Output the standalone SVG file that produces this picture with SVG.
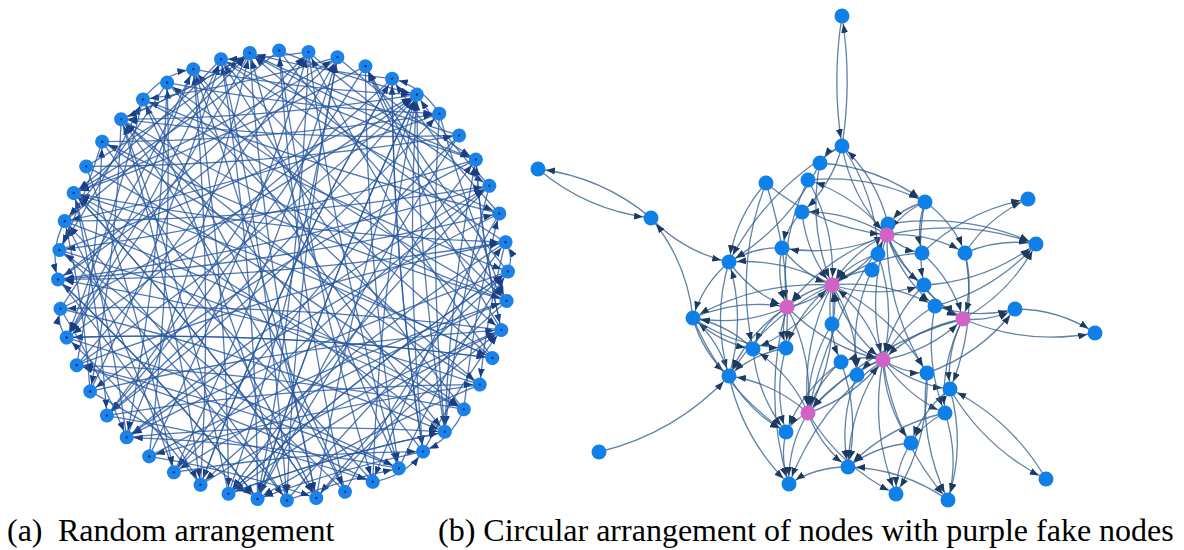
<svg xmlns="http://www.w3.org/2000/svg" xmlns:xlink="http://www.w3.org/1999/xlink" width="1184" height="550" viewBox="0 0 1184 550">
<style>
.ea{fill:none;stroke:#28579f;stroke-opacity:.8;stroke-width:1.3;marker-end:url(#ha)}
.eb{fill:none;stroke:#35608e;stroke-opacity:.78;stroke-width:1.3;marker-end:url(#hb)}
.na{fill:#1b82ea}
.dot{fill:#0b3470}
.nb{fill:#0f80e8}
.np{fill:#d262c6}
.cap{font-family:"Liberation Serif","Times New Roman",serif;font-size:32px;fill:#000}
</style>
<defs>
<marker id="ha" markerUnits="userSpaceOnUse" markerWidth="9" markerHeight="7" refX="16" refY="3.5" orient="auto"><path d="M0,0L9,3.5L0,7z" fill="#183e86"/></marker>
<marker id="hb" markerUnits="userSpaceOnUse" markerWidth="9" markerHeight="7" refX="17" refY="3.5" orient="auto"><path d="M0,0L9,3.5L0,7z" fill="#1d3a60"/></marker>
<path id="k1" class="ea" d="M225 0Q231.4 15.2 223.07 29.37"/>
<path id="k2" class="ea" d="M225 0Q232.8 30.6 217.33 58.23"/>
<path id="k3" class="ea" d="M225 0Q213 42.4 207.87 86.1"/>
<path id="k4" class="ea" d="M225 0Q205.4 55 194.86 112.5"/>
<path id="k5" class="ea" d="M225 0Q196.3 66.6 178.5 136.97"/>
<path id="k6" class="ea" d="M225 0Q185.7 76.9 159.1 159.1"/>
<path id="k7" class="ea" d="M225 0Q173.8 85.7 136.97 178.5"/>
<path id="k8" class="ea" d="M225 0Q161 92.9 112.5 194.86"/>
<path id="k9" class="ea" d="M225 0Q147.2 98.4 86.1 207.87"/>
<path id="k10" class="ea" d="M225 0Q132.9 102 58.23 217.33"/>
<path id="k11" class="ea" d="M225 0Q118.3 103.7 29.37 223.07"/>
<path id="k12" class="ea" d="M225 0Q103.5 103.5 0 225"/>
<path id="k13" class="ea" d="M225 0Q88.9 101.4 -29.37 223.07"/>
<path id="k14" class="ea" d="M225 0Q74.7 97.3 -58.23 217.33"/>
<path id="k15" class="ea" d="M225 0Q61.1 91.5 -86.1 207.87"/>
<path id="k16" class="ea" d="M225 0Q48.5 83.9 -112.5 194.86"/>
<path id="k17" class="ea" d="M225 0Q36.9 74.8 -136.97 178.5"/>
<path id="k18" class="ea" d="M225 0Q26.6 64.2 -159.1 159.1"/>
<path id="k19" class="ea" d="M225 0Q17.8 52.3 -178.5 136.97"/>
<path id="k20" class="ea" d="M225 0Q10.6 39.5 -194.86 112.5"/>
<path id="k21" class="ea" d="M225 0Q5.1 25.7 -207.87 86.1"/>
<path id="k22" class="ea" d="M225 0Q1.5 11.4 -217.33 58.23"/>
<path id="k23" class="ea" d="M225 0Q-0.2 -3.2 -223.07 29.37"/>
<path id="k24" class="ea" d="M225 0Q0 -18 -225 0"/>
<path id="m1" class="ea" d="M225 0Q231.4 -15.2 223.07 -29.37"/>
<path id="m2" class="ea" d="M225 0Q232.8 -30.6 217.33 -58.23"/>
<path id="m3" class="ea" d="M225 0Q213 -42.4 207.87 -86.1"/>
<path id="m4" class="ea" d="M225 0Q205.4 -55 194.86 -112.5"/>
<path id="m5" class="ea" d="M225 0Q196.3 -66.6 178.5 -136.97"/>
<path id="m6" class="ea" d="M225 0Q185.7 -76.9 159.1 -159.1"/>
<path id="m7" class="ea" d="M225 0Q173.8 -85.7 136.97 -178.5"/>
<path id="m8" class="ea" d="M225 0Q161 -92.9 112.5 -194.86"/>
<path id="m9" class="ea" d="M225 0Q147.2 -98.4 86.1 -207.87"/>
<path id="m10" class="ea" d="M225 0Q132.9 -102 58.23 -217.33"/>
<path id="m11" class="ea" d="M225 0Q118.3 -103.7 29.37 -223.07"/>
<path id="m12" class="ea" d="M225 0Q103.5 -103.5 0 -225"/>
<path id="m13" class="ea" d="M225 0Q88.9 -101.4 -29.37 -223.07"/>
<path id="m14" class="ea" d="M225 0Q74.7 -97.3 -58.23 -217.33"/>
<path id="m15" class="ea" d="M225 0Q61.1 -91.5 -86.1 -207.87"/>
<path id="m16" class="ea" d="M225 0Q48.5 -83.9 -112.5 -194.86"/>
<path id="m17" class="ea" d="M225 0Q36.9 -74.8 -136.97 -178.5"/>
<path id="m18" class="ea" d="M225 0Q26.6 -64.2 -159.1 -159.1"/>
<path id="m19" class="ea" d="M225 0Q17.8 -52.3 -178.5 -136.97"/>
<path id="m20" class="ea" d="M225 0Q10.6 -39.5 -194.86 -112.5"/>
<path id="m21" class="ea" d="M225 0Q5.1 -25.7 -207.87 -86.1"/>
<path id="m22" class="ea" d="M225 0Q1.5 -11.4 -217.33 -58.23"/>
<path id="m23" class="ea" d="M225 0Q-0.2 3.2 -223.07 -29.37"/>
<path id="m24" class="ea" d="M225 0Q0 18 -225 0"/>
</defs>
<rect width="1184" height="550" fill="#fff"/>

<g id="connectors-a" transform="translate(283,275.5)">
<g transform="rotate(-91)"><use href="#k5"/><use href="#k13"/><use href="#m9"/><use href="#k21"/></g>
<g transform="rotate(-83.5)"><use href="#k8"/><use href="#m3"/><use href="#k19"/><use href="#m24"/></g>
<g transform="rotate(-76)"><use href="#m14"/><use href="#k6"/><use href="#k22"/><use href="#m7"/></g>
<g transform="rotate(-68.5)"><use href="#k10"/><use href="#m20"/><use href="#k17"/><use href="#m12"/></g>
<g transform="rotate(-61)"><use href="#k15"/><use href="#m5"/><use href="#k23"/><use href="#m18"/></g>
<g transform="rotate(-53.5)"><use href="#m11"/><use href="#k20"/><use href="#m22"/><use href="#k14"/></g>
<g transform="rotate(-46)"><use href="#k7"/><use href="#m16"/><use href="#k12"/><use href="#m2"/></g>
<g transform="rotate(-38.5)"><use href="#m8"/><use href="#k21"/><use href="#m13"/><use href="#k18"/></g>
<g transform="rotate(-31)"><use href="#k24"/><use href="#m10"/><use href="#k6"/><use href="#m19"/></g>
<g transform="rotate(-23.5)"><use href="#m4"/><use href="#k17"/><use href="#m21"/><use href="#k9"/></g>
<g transform="rotate(-16)"><use href="#k11"/><use href="#m15"/><use href="#k20"/><use href="#m6"/></g>
<g transform="rotate(-8.5)"><use href="#m12"/><use href="#k5"/><use href="#k16"/><use href="#m23"/></g>
<g transform="rotate(-1)"><use href="#k18"/><use href="#m9"/><use href="#k14"/><use href="#m1"/></g>
<g transform="rotate(6.5)"><use href="#m20"/><use href="#k10"/><use href="#m17"/><use href="#k15"/></g>
<g transform="rotate(14)"><use href="#k12"/><use href="#m6"/><use href="#k21"/><use href="#m11"/></g>
<g transform="rotate(21.5)"><use href="#m18"/><use href="#k19"/><use href="#m14"/><use href="#k24"/></g>
<g transform="rotate(29)"><use href="#k9"/><use href="#m22"/><use href="#k13"/><use href="#k20"/></g>
<g transform="rotate(36.5)"><use href="#m7"/><use href="#k16"/><use href="#k2"/><use href="#m19"/></g>
<g transform="rotate(44)"><use href="#k21"/><use href="#m13"/><use href="#k8"/><use href="#m10"/></g>
<g transform="rotate(51.5)"><use href="#m15"/><use href="#k6"/><use href="#k23"/><use href="#m5"/></g>
<g transform="rotate(59)"><use href="#k13"/><use href="#m21"/><use href="#k10"/><use href="#m8"/></g>
<g transform="rotate(66.5)"><use href="#m2"/><use href="#k18"/><use href="#m16"/><use href="#k12"/></g>
<g transform="rotate(74)"><use href="#k20"/><use href="#m11"/><use href="#k15"/><use href="#m22"/></g>
<g transform="rotate(81.5)"><use href="#m9"/><use href="#k22"/><use href="#m18"/><use href="#k16"/></g>
<g transform="rotate(89)"><use href="#k14"/><use href="#m4"/><use href="#k19"/><use href="#m12"/></g>
<g transform="rotate(96.5)"><use href="#m17"/><use href="#k11"/><use href="#m20"/><use href="#k21"/></g>
<g transform="rotate(104)"><use href="#k16"/><use href="#m8"/><use href="#k24"/><use href="#m14"/></g>
<g transform="rotate(111.5)"><use href="#m13"/><use href="#k7"/><use href="#k18"/><use href="#m23"/></g>
<g transform="rotate(119)"><use href="#k10"/><use href="#m19"/><use href="#m9"/><use href="#k22"/></g>
<g transform="rotate(126.5)"><use href="#m6"/><use href="#k15"/><use href="#k20"/><use href="#m16"/></g>
<g transform="rotate(134)"><use href="#k17"/><use href="#m12"/><use href="#k9"/><use href="#m21"/></g>
<g transform="rotate(141.5)"><use href="#m10"/><use href="#k23"/><use href="#m15"/><use href="#k19"/></g>
<g transform="rotate(149)"><use href="#k6"/><use href="#m18"/><use href="#k14"/><use href="#m7"/></g>
<g transform="rotate(156.5)"><use href="#m22"/><use href="#k8"/><use href="#k20"/><use href="#k16"/></g>
<g transform="rotate(164)"><use href="#k12"/><use href="#m14"/><use href="#k1"/><use href="#m19"/></g>
<g transform="rotate(171.5)"><use href="#m5"/><use href="#k18"/><use href="#k10"/><use href="#m17"/></g>
<g transform="rotate(179)"><use href="#k22"/><use href="#m9"/><use href="#k13"/><use href="#m11"/></g>
<g transform="rotate(186.5)"><use href="#m20"/><use href="#k6"/><use href="#k16"/><use href="#m13"/></g>
<g transform="rotate(194)"><use href="#k9"/><use href="#m2"/><use href="#k19"/><use href="#m21"/></g>
<g transform="rotate(201.5)"><use href="#m16"/><use href="#k11"/><use href="#m8"/><use href="#k20"/></g>
<g transform="rotate(209)"><use href="#k15"/><use href="#m23"/><use href="#k7"/><use href="#m12"/></g>
<g transform="rotate(216.5)"><use href="#m4"/><use href="#k13"/><use href="#k22"/><use href="#m18"/></g>
<g transform="rotate(224)"><use href="#k19"/><use href="#m10"/><use href="#k5"/><use href="#m15"/></g>
<g transform="rotate(231.5)"><use href="#m21"/><use href="#k17"/><use href="#k2"/><use href="#m9"/></g>
<g transform="rotate(239)"><use href="#k10"/><use href="#m14"/><use href="#k20"/><use href="#m6"/></g>
<g transform="rotate(246.5)"><use href="#m11"/><use href="#k21"/><use href="#k8"/><use href="#m19"/></g>
<g transform="rotate(254)"><use href="#k16"/><use href="#m7"/><use href="#k12"/><use href="#m22"/></g>
<g transform="rotate(261.5)"><use href="#m13"/><use href="#k9"/><use href="#k24"/><use href="#m5"/></g>
</g>

<g id="nodes-a" transform="translate(283,275.5)">
<g id="a0" transform="rotate(-91)"><circle class="na" cx="225" cy="0" r="7"/><circle class="dot" cx="225" cy="0" r="1.2"/></g>
<g id="a1" transform="rotate(-83.5)"><circle class="na" cx="225" cy="0" r="7"/><circle class="dot" cx="225" cy="0" r="1.2"/></g>
<g id="a2" transform="rotate(-76)"><circle class="na" cx="225" cy="0" r="7"/><circle class="dot" cx="225" cy="0" r="1.2"/></g>
<g id="a3" transform="rotate(-68.5)"><circle class="na" cx="225" cy="0" r="7"/><circle class="dot" cx="225" cy="0" r="1.2"/></g>
<g id="a4" transform="rotate(-61)"><circle class="na" cx="225" cy="0" r="7"/><circle class="dot" cx="225" cy="0" r="1.2"/></g>
<g id="a5" transform="rotate(-53.5)"><circle class="na" cx="225" cy="0" r="7"/><circle class="dot" cx="225" cy="0" r="1.2"/></g>
<g id="a6" transform="rotate(-46)"><circle class="na" cx="225" cy="0" r="7"/><circle class="dot" cx="225" cy="0" r="1.2"/></g>
<g id="a7" transform="rotate(-38.5)"><circle class="na" cx="225" cy="0" r="7"/><circle class="dot" cx="225" cy="0" r="1.2"/></g>
<g id="a8" transform="rotate(-31)"><circle class="na" cx="225" cy="0" r="7"/><circle class="dot" cx="225" cy="0" r="1.2"/></g>
<g id="a9" transform="rotate(-23.5)"><circle class="na" cx="225" cy="0" r="7"/><circle class="dot" cx="225" cy="0" r="1.2"/></g>
<g id="a10" transform="rotate(-16)"><circle class="na" cx="225" cy="0" r="7"/><circle class="dot" cx="225" cy="0" r="1.2"/></g>
<g id="a11" transform="rotate(-8.5)"><circle class="na" cx="225" cy="0" r="7"/><circle class="dot" cx="225" cy="0" r="1.2"/></g>
<g id="a12" transform="rotate(-1)"><circle class="na" cx="225" cy="0" r="7"/><circle class="dot" cx="225" cy="0" r="1.2"/></g>
<g id="a13" transform="rotate(6.5)"><circle class="na" cx="225" cy="0" r="7"/><circle class="dot" cx="225" cy="0" r="1.2"/></g>
<g id="a14" transform="rotate(14)"><circle class="na" cx="225" cy="0" r="7"/><circle class="dot" cx="225" cy="0" r="1.2"/></g>
<g id="a15" transform="rotate(21.5)"><circle class="na" cx="225" cy="0" r="7"/><circle class="dot" cx="225" cy="0" r="1.2"/></g>
<g id="a16" transform="rotate(29)"><circle class="na" cx="225" cy="0" r="7"/><circle class="dot" cx="225" cy="0" r="1.2"/></g>
<g id="a17" transform="rotate(36.5)"><circle class="na" cx="225" cy="0" r="7"/><circle class="dot" cx="225" cy="0" r="1.2"/></g>
<g id="a18" transform="rotate(44)"><circle class="na" cx="225" cy="0" r="7"/><circle class="dot" cx="225" cy="0" r="1.2"/></g>
<g id="a19" transform="rotate(51.5)"><circle class="na" cx="225" cy="0" r="7"/><circle class="dot" cx="225" cy="0" r="1.2"/></g>
<g id="a20" transform="rotate(59)"><circle class="na" cx="225" cy="0" r="7"/><circle class="dot" cx="225" cy="0" r="1.2"/></g>
<g id="a21" transform="rotate(66.5)"><circle class="na" cx="225" cy="0" r="7"/><circle class="dot" cx="225" cy="0" r="1.2"/></g>
<g id="a22" transform="rotate(74)"><circle class="na" cx="225" cy="0" r="7"/><circle class="dot" cx="225" cy="0" r="1.2"/></g>
<g id="a23" transform="rotate(81.5)"><circle class="na" cx="225" cy="0" r="7"/><circle class="dot" cx="225" cy="0" r="1.2"/></g>
<g id="a24" transform="rotate(89)"><circle class="na" cx="225" cy="0" r="7"/><circle class="dot" cx="225" cy="0" r="1.2"/></g>
<g id="a25" transform="rotate(96.5)"><circle class="na" cx="225" cy="0" r="7"/><circle class="dot" cx="225" cy="0" r="1.2"/></g>
<g id="a26" transform="rotate(104)"><circle class="na" cx="225" cy="0" r="7"/><circle class="dot" cx="225" cy="0" r="1.2"/></g>
<g id="a27" transform="rotate(111.5)"><circle class="na" cx="225" cy="0" r="7"/><circle class="dot" cx="225" cy="0" r="1.2"/></g>
<g id="a28" transform="rotate(119)"><circle class="na" cx="225" cy="0" r="7"/><circle class="dot" cx="225" cy="0" r="1.2"/></g>
<g id="a29" transform="rotate(126.5)"><circle class="na" cx="225" cy="0" r="7"/><circle class="dot" cx="225" cy="0" r="1.2"/></g>
<g id="a30" transform="rotate(134)"><circle class="na" cx="225" cy="0" r="7"/><circle class="dot" cx="225" cy="0" r="1.2"/></g>
<g id="a31" transform="rotate(141.5)"><circle class="na" cx="225" cy="0" r="7"/><circle class="dot" cx="225" cy="0" r="1.2"/></g>
<g id="a32" transform="rotate(149)"><circle class="na" cx="225" cy="0" r="7"/><circle class="dot" cx="225" cy="0" r="1.2"/></g>
<g id="a33" transform="rotate(156.5)"><circle class="na" cx="225" cy="0" r="7"/><circle class="dot" cx="225" cy="0" r="1.2"/></g>
<g id="a34" transform="rotate(164)"><circle class="na" cx="225" cy="0" r="7"/><circle class="dot" cx="225" cy="0" r="1.2"/></g>
<g id="a35" transform="rotate(171.5)"><circle class="na" cx="225" cy="0" r="7"/><circle class="dot" cx="225" cy="0" r="1.2"/></g>
<g id="a36" transform="rotate(179)"><circle class="na" cx="225" cy="0" r="7"/><circle class="dot" cx="225" cy="0" r="1.2"/></g>
<g id="a37" transform="rotate(186.5)"><circle class="na" cx="225" cy="0" r="7"/><circle class="dot" cx="225" cy="0" r="1.2"/></g>
<g id="a38" transform="rotate(194)"><circle class="na" cx="225" cy="0" r="7"/><circle class="dot" cx="225" cy="0" r="1.2"/></g>
<g id="a39" transform="rotate(201.5)"><circle class="na" cx="225" cy="0" r="7"/><circle class="dot" cx="225" cy="0" r="1.2"/></g>
<g id="a40" transform="rotate(209)"><circle class="na" cx="225" cy="0" r="7"/><circle class="dot" cx="225" cy="0" r="1.2"/></g>
<g id="a41" transform="rotate(216.5)"><circle class="na" cx="225" cy="0" r="7"/><circle class="dot" cx="225" cy="0" r="1.2"/></g>
<g id="a42" transform="rotate(224)"><circle class="na" cx="225" cy="0" r="7"/><circle class="dot" cx="225" cy="0" r="1.2"/></g>
<g id="a43" transform="rotate(231.5)"><circle class="na" cx="225" cy="0" r="7"/><circle class="dot" cx="225" cy="0" r="1.2"/></g>
<g id="a44" transform="rotate(239)"><circle class="na" cx="225" cy="0" r="7"/><circle class="dot" cx="225" cy="0" r="1.2"/></g>
<g id="a45" transform="rotate(246.5)"><circle class="na" cx="225" cy="0" r="7"/><circle class="dot" cx="225" cy="0" r="1.2"/></g>
<g id="a46" transform="rotate(254)"><circle class="na" cx="225" cy="0" r="7"/><circle class="dot" cx="225" cy="0" r="1.2"/></g>
<g id="a47" transform="rotate(261.5)"><circle class="na" cx="225" cy="0" r="7"/><circle class="dot" cx="225" cy="0" r="1.2"/></g>
</g>

<g id="connectors-b" class="eb">
<path class="eb" d="M842 16Q831.6 81 842 146"/>
<path class="eb" d="M842 146Q852.4 81 842 16"/>
<path class="eb" d="M538 169Q587.2 210.5 651 218"/>
<path class="eb" d="M651 218Q601.9 176.6 538 169"/>
<path class="eb" d="M651 218Q683.4 251.7 729 262"/>
<path class="eb" d="M693 318Q687 261.7 651 218"/>
<path class="eb" d="M599 452Q675.4 433.5 729 376"/>
<path class="eb" d="M950 389Q984.5 448.4 1046 479"/>
<path class="eb" d="M1046 479Q1011.5 419.6 950 389"/>
<path class="eb" d="M963 319Q1026.9 345.8 1095 333"/>
<path class="eb" d="M1015 309Q1058.6 309 1095 333"/>
<path class="eb" d="M965 253Q988.4 216.6 1028 199"/>
<path class="eb" d="M922 253Q966.9 210.1 1028 199"/>
<path class="eb" d="M965 253Q999.2 237.9 1036 244"/>
<path class="eb" d="M935 306Q994.8 290.2 1036 244"/>
<path class="eb" d="M963 319Q1010.8 292.5 1036 244"/>
<path class="eb" d="M888 224Q965 211.8 1036 244"/>
<path class="eb" d="M924 285Q986.2 281.3 1036 244"/>
<path class="eb" d="M808 180Q869.8 173.5 925 202"/>
<path class="eb" d="M820 163Q878.4 166.8 925 202"/>
<path class="eb" d="M925 202Q915.9 227 922 253"/>
<path class="eb" d="M925 202Q952.7 221.5 965 253"/>
<path class="eb" d="M925 202Q916.2 243.4 924 285"/>
<path class="eb" d="M842 146Q828.5 151.2 820 163"/>
<path class="eb" d="M842 146Q768.1 187 729 262"/>
<path class="eb" d="M842 146Q831.9 185 802 212"/>
<path class="eb" d="M842 146Q876.2 194.6 878 254"/>
<path class="eb" d="M820 163Q789.4 226.2 729 262"/>
<path class="eb" d="M808 180Q778.5 240.3 787 307"/>
<path class="eb" d="M766 183Q734.6 264 753 349"/>
<path class="eb" d="M766 183Q792.5 263.5 786 348"/>
<path class="eb" d="M766 183Q818.7 227.2 887 235"/>
<path class="eb" d="M802 212Q786.6 227 782 248"/>
<path class="eb" d="M802 212Q806 253 832 285"/>
<path class="eb" d="M782 248Q753.4 247 729 262"/>
<path class="eb" d="M729 262Q702.6 284.6 693 318"/>
<path class="eb" d="M729 262Q711.9 319 729 376"/>
<path class="eb" d="M729 376Q746.1 319 729 262"/>
<path class="eb" d="M729 262Q751.2 293.2 787 307"/>
<path class="eb" d="M832 285Q784 258 729 262"/>
<path class="eb" d="M753 349Q727.7 324.5 693 318"/>
<path class="eb" d="M729 376Q719.7 341.6 693 318"/>
<path class="eb" d="M832 285Q757.6 280.6 693 318"/>
<path class="eb" d="M693 318Q702.3 352.4 729 376"/>
<path class="eb" d="M729 376Q749.1 412.6 786 432"/>
<path class="eb" d="M808 413Q794.2 419.2 786 432"/>
<path class="eb" d="M808 413Q774 382.6 729 376"/>
<path class="eb" d="M808 413Q787.8 445.6 789 484"/>
<path class="eb" d="M787 307Q761.4 395.8 789 484"/>
<path class="eb" d="M786 348Q753.3 353.4 729 376"/>
<path class="eb" d="M883 360Q849.4 408.2 848 467"/>
<path class="eb" d="M841 362Q860.2 415.5 848 467"/>
<path class="eb" d="M883 360Q869.4 429 896 494"/>
<path class="eb" d="M911 443Q895.8 466.3 896 494"/>
<path class="eb" d="M950 389Q965.7 444.8 948 500"/>
<path class="eb" d="M883 360Q894.5 439.8 948 500"/>
<path class="eb" d="M883 360Q884.6 405.7 911 443"/>
<path class="eb" d="M945 413Q923.5 422.9 911 443"/>
<path class="eb" d="M883 360Q906 395.8 945 413"/>
<path class="eb" d="M963 319Q939.9 363.3 945 413"/>
<path class="eb" d="M883 360Q903 373.1 927 373"/>
<path class="eb" d="M832 285Q892.7 314.8 927 373"/>
<path class="eb" d="M883 360Q912.2 384.5 950 389"/>
<path class="eb" d="M963 319Q946 352 950 389"/>
<path class="eb" d="M965 253Q977.9 323.3 950 389"/>
<path class="eb" d="M887 235Q852 251.8 832 285"/>
<path class="eb" d="M832 285Q867 268.3 887 235"/>
<path class="eb" d="M887 235Q912.4 288.4 963 319"/>
<path class="eb" d="M887 235Q866.3 296.9 883 360"/>
<path class="eb" d="M832 285Q846.3 330.2 883 360"/>
<path class="eb" d="M883 360Q868.8 314.9 832 285"/>
<path class="eb" d="M787 307Q812.8 302.8 832 285"/>
<path class="eb" d="M832 285Q806.2 289.3 787 307"/>
<path class="eb" d="M832 285Q800.8 345.4 808 413"/>
<path class="eb" d="M808 413Q839.2 352.6 832 285"/>
<path class="eb" d="M883 360Q837.6 375.3 808 413"/>
<path class="eb" d="M963 319Q916.9 327.5 883 360"/>
<path class="eb" d="M883 360Q929.2 351.5 963 319"/>
<path class="eb" d="M887 235Q826.2 256 787 307"/>
<path class="eb" d="M787 307Q827 347.9 883 360"/>
<path class="eb" d="M878 254Q850.4 262.6 832 285"/>
<path class="eb" d="M872 270Q849.8 271.5 832 285"/>
<path class="eb" d="M922 253Q872.2 255.5 832 285"/>
<path class="eb" d="M832 285Q878 298.8 924 285"/>
<path class="eb" d="M832 285Q886.7 280 935 306"/>
<path class="eb" d="M832 324Q837.9 304.5 832 285"/>
<path class="eb" d="M832 285Q825 324.9 841 362"/>
<path class="eb" d="M832 285Q858 326.2 857 375"/>
<path class="eb" d="M782 248Q801.5 274 832 285"/>
<path class="eb" d="M832 285Q799.6 309.6 786 348"/>
<path class="eb" d="M832 285Q802.1 328.9 753 349"/>
<path class="eb" d="M787 307Q763.7 322.9 753 349"/>
<path class="eb" d="M787 307Q780.4 327.4 786 348"/>
<path class="eb" d="M787 307Q747.7 332.8 729 376"/>
<path class="eb" d="M693 318Q738.4 298.4 787 307"/>
<path class="eb" d="M787 307Q741.7 326.6 693 318"/>
<path class="eb" d="M808 413Q853.5 397.8 883 360"/>
<path class="eb" d="M808 413Q819.9 446 848 467"/>
<path class="eb" d="M887 235Q829.7 316.1 808 413"/>
<path class="eb" d="M963 319Q871.4 342.8 808 413"/>
<path class="eb" d="M808 413Q839.9 466.7 896 494"/>
<path class="eb" d="M883 360Q817.4 407.9 789 484"/>
<path class="eb" d="M945 413Q888.4 425.5 848 467"/>
<path class="eb" d="M948 500Q903 468.5 848 467"/>
<path class="eb" d="M927 373Q980.6 354.2 1015 309"/>
<path class="eb" d="M935 306Q974.6 319.5 1015 309"/>
<path class="eb" d="M963 319Q990.5 321.8 1015 309"/>
<path class="eb" d="M925 202Q903.2 207.5 888 224"/>
<path class="eb" d="M888 224Q876.7 178.1 842 146"/>
<path class="eb" d="M887 235Q855.8 195.7 808 180"/>
<path class="eb" d="M887 235Q848 210.8 802 212"/>
<path class="eb" d="M887 235Q836.5 257.3 782 248"/>
<path class="eb" d="M887 235Q901.8 249.3 922 253"/>
<path class="eb" d="M887 235Q928.7 232.3 965 253"/>
<path class="eb" d="M887 235Q962.9 217.2 1036 244"/>
<path class="eb" d="M887 235Q898 265.6 924 285"/>
<path class="eb" d="M887 235Q900.4 277.7 935 306"/>
<path class="eb" d="M878 254Q896.4 307.8 883 360"/>
<path class="eb" d="M872 270Q848.8 320.3 857 375"/>
<path class="eb" d="M924 285Q892.3 316.4 883 360"/>
<path class="eb" d="M935 306Q900.9 325.2 883 360"/>
<path class="eb" d="M883 360Q861.7 354.7 841 362"/>
<path class="eb" d="M883 360Q867.8 363.6 857 375"/>
<path class="eb" d="M924 285Q938.4 307.9 963 319"/>
<path class="eb" d="M922 253Q952.4 279.9 963 319"/>
<path class="eb" d="M965 253Q973.9 286.3 963 319"/>
<path class="eb" d="M963 319Q951 308.3 935 306"/>
<path class="eb" d="M841 362Q803 388.8 786 432"/>
<path class="eb" d="M832 324Q806.7 364.9 808 413"/>
<path class="eb" d="M786 348Q773.4 390 786 432"/>
<path class="eb" d="M753 349Q757 395.5 786 432"/>
<path class="eb" d="M729 376Q742.8 439 789 484"/>
<path class="eb" d="M786 432Q779.7 458.5 789 484"/>
<path class="eb" d="M857 375Q838.7 419.7 848 467"/>
<path class="eb" d="M927 373Q918.5 439.7 948 500"/>
<path class="eb" d="M945 413Q959.6 457 948 500"/>
<path class="eb" d="M935 306Q924 361 945 413"/>
<path class="eb" d="M693 318Q718.4 342.5 753 349"/>
<path class="eb" d="M693 318Q735 347 786 348"/>
<path class="eb" d="M766 183Q735.7 217 729 262"/>
<path class="eb" d="M782 248Q775.7 278.2 787 307"/>
<path class="eb" d="M808 180Q835.8 228.9 832 285"/>
<path class="eb" d="M820 163Q807.7 225.8 832 285"/>
<path class="eb" d="M925 202Q901 212.8 887 235"/>
<path class="eb" d="M842 146Q851.2 197.3 887 235"/>
<path class="eb" d="M832 324Q852.1 349.7 883 360"/>
<path class="eb" d="M841 362Q816.9 382.6 808 413"/>
<path class="eb" d="M693 318Q722.4 389 786 432"/>
<path class="eb" d="M848 467Q816 466.7 789 484"/>
<path class="eb" d="M911 443Q875.9 445.6 848 467"/>
<path class="eb" d="M950 389Q922.4 410.2 911 443"/>
<path class="eb" d="M927 373Q929.7 438.2 896 494"/>
<path class="eb" d="M887 235Q886.3 310 927 373"/>
<path class="eb" d="M808 413Q790.1 372.8 753 349"/>
<path class="eb" d="M832 285Q766.9 315.1 729 376"/>
<path class="eb" d="M787 307Q813.4 356.9 808 413"/>
</g>

<g id="nodes-b">
<g id="b0"><circle class="nb" cx="842" cy="16" r="7.5"/></g>
<g id="b1"><circle class="nb" cx="842" cy="146" r="7.5"/></g>
<g id="b2"><circle class="nb" cx="820" cy="163" r="7.5"/></g>
<g id="b3"><circle class="nb" cx="808" cy="180" r="7.5"/></g>
<g id="b4"><circle class="nb" cx="766" cy="183" r="7.5"/></g>
<g id="b5"><circle class="nb" cx="802" cy="212" r="7.5"/></g>
<g id="b6"><circle class="nb" cx="925" cy="202" r="7.5"/></g>
<g id="b7"><circle class="nb" cx="1028" cy="199" r="7.5"/></g>
<g id="b8"><circle class="nb" cx="538" cy="169" r="7.5"/></g>
<g id="b9"><circle class="nb" cx="651" cy="218" r="7.5"/></g>
<g id="b10"><circle class="nb" cx="782" cy="248" r="7.5"/></g>
<g id="b11"><circle class="nb" cx="888" cy="224" r="7.5"/></g>
<g id="b12"><circle class="np" cx="887" cy="235" r="7.5"/></g>
<g id="b13"><circle class="nb" cx="878" cy="254" r="7.5"/></g>
<g id="b14"><circle class="nb" cx="922" cy="253" r="7.5"/></g>
<g id="b15"><circle class="nb" cx="965" cy="253" r="7.5"/></g>
<g id="b16"><circle class="nb" cx="1036" cy="244" r="7.5"/></g>
<g id="b17"><circle class="nb" cx="729" cy="262" r="7.5"/></g>
<g id="b18"><circle class="nb" cx="872" cy="270" r="7.5"/></g>
<g id="b19"><circle class="np" cx="832" cy="285" r="7.5"/></g>
<g id="b20"><circle class="nb" cx="924" cy="285" r="7.5"/></g>
<g id="b21"><circle class="nb" cx="935" cy="306" r="7.5"/></g>
<g id="b22"><circle class="nb" cx="693" cy="318" r="7.5"/></g>
<g id="b23"><circle class="np" cx="787" cy="307" r="7.5"/></g>
<g id="b24"><circle class="np" cx="963" cy="319" r="7.5"/></g>
<g id="b25"><circle class="nb" cx="1015" cy="309" r="7.5"/></g>
<g id="b26"><circle class="nb" cx="1095" cy="333" r="7.5"/></g>
<g id="b27"><circle class="nb" cx="832" cy="324" r="7.5"/></g>
<g id="b28"><circle class="nb" cx="753" cy="349" r="7.5"/></g>
<g id="b29"><circle class="nb" cx="786" cy="348" r="7.5"/></g>
<g id="b30"><circle class="np" cx="883" cy="360" r="7.5"/></g>
<g id="b31"><circle class="nb" cx="841" cy="362" r="7.5"/></g>
<g id="b32"><circle class="nb" cx="857" cy="375" r="7.5"/></g>
<g id="b33"><circle class="nb" cx="927" cy="373" r="7.5"/></g>
<g id="b34"><circle class="nb" cx="950" cy="389" r="7.5"/></g>
<g id="b35"><circle class="nb" cx="729" cy="376" r="7.5"/></g>
<g id="b36"><circle class="nb" cx="945" cy="413" r="7.5"/></g>
<g id="b37"><circle class="np" cx="808" cy="413" r="7.5"/></g>
<g id="b38"><circle class="nb" cx="786" cy="432" r="7.5"/></g>
<g id="b39"><circle class="nb" cx="911" cy="443" r="7.5"/></g>
<g id="b40"><circle class="nb" cx="848" cy="467" r="7.5"/></g>
<g id="b41"><circle class="nb" cx="599" cy="452" r="7.5"/></g>
<g id="b42"><circle class="nb" cx="789" cy="484" r="7.5"/></g>
<g id="b43"><circle class="nb" cx="896" cy="494" r="7.5"/></g>
<g id="b44"><circle class="nb" cx="948" cy="500" r="7.5"/></g>
<g id="b45"><circle class="nb" cx="1046" cy="479" r="7.5"/></g>
</g>

<g id="captions">
<text class="cap" x="7" y="541">(a)<tspan x="58">Random arrangement</tspan></text>
<text class="cap" x="438" y="541">(b) Circular arrangement of nodes with purple fake nodes</text>
</g>
</svg>
